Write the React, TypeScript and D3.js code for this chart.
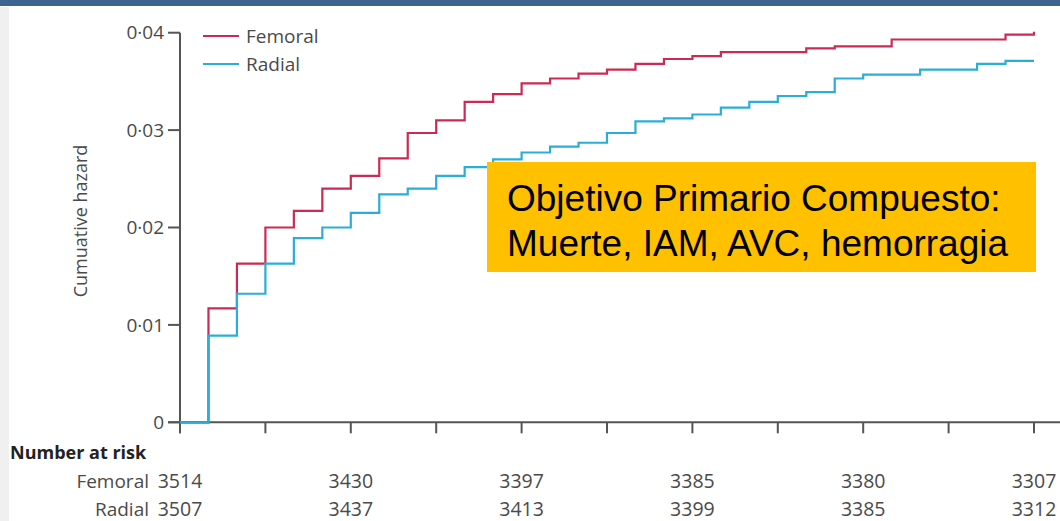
import React from "react";
import * as d3 from "d3";

// Follow-up days (step times) and cumulative hazard per arm
const days = [0, 1, 2, 3, 4, 5, 6, 7, 8, 9, 10, 11, 12, 13, 14, 15, 16, 17, 18, 19, 20, 21, 22, 23, 24, 25, 26, 27, 28, 29, 30];
const femoralHazard = [
  0, 0.0117, 0.0163, 0.0200, 0.0217, 0.0240, 0.0253, 0.0271, 0.0297, 0.0310, 0.0329,
  0.0337, 0.0348, 0.0353, 0.0358, 0.0362, 0.0368, 0.0373, 0.0376, 0.0380, 0.0380,
  0.0380, 0.0384, 0.0386, 0.0386, 0.0393, 0.0393, 0.0393, 0.0393, 0.0398, 0.0401,
];
const radialHazard = [
  0, 0.0089, 0.0132, 0.0163, 0.0189, 0.0200, 0.0215, 0.0234, 0.0240, 0.0253, 0.0262,
  0.0270, 0.0277, 0.0283, 0.0287, 0.0297, 0.0309, 0.0312, 0.0316, 0.0323, 0.0329,
  0.0335, 0.0339, 0.0353, 0.0357, 0.0357, 0.0362, 0.0362, 0.0368, 0.0371, 0.0371,
];

const xTicks = [0, 3, 6, 9, 12, 15, 18, 21, 24, 27, 30];
const yTicks = [0, 0.01, 0.02, 0.03, 0.04];
const yTickLabels = ["0", "0·01", "0·02", "0·03", "0·04"];

// Number at risk table
const riskDays = [0, 6, 12, 18, 24, 30];
const femoralAtRisk = [3514, 3430, 3397, 3385, 3380, 3307];
const radialAtRisk = [3507, 3437, 3413, 3399, 3385, 3312];

const seriesNames = ["Femoral", "Radial"];
const seriesColors = ["#cc2a52", "#2aadd6"];

const boxLines = ["Objetivo Primario Compuesto:", "Muerte, IAM, AVC, hemorragia"];

const W = 1060;
const H = 521;
const FONT = "'Open Sans', 'Noto Sans', sans-serif";
const AXIS = "#555";
const TEXT = "#4a4a4a";

export default function App() {
  const x = d3.scaleLinear().domain([0, 30]).range([180, 1034]);
  const y = d3.scaleLinear().domain([0, 0.04]).range([422.3, 32.7]);

  const line = d3
    .line<[number, number]>()
    .x((d) => x(d[0]))
    .y((d) => y(d[1]))
    .curve(d3.curveStepAfter);

  const femPath = line(days.map((d, i) => [d, femoralHazard[i]]) as [number, number][]) || "";
  const radPath = line(days.map((d, i) => [d, radialHazard[i]]) as [number, number][]) || "";

  const y0 = y(0);
  const axisX = x(0);

  return (
    <svg
      width={W}
      height={H}
      viewBox={`0 0 ${W} ${H}`}
      style={{ position: "absolute", left: 0, top: 0, background: "#fff" }}
      fontFamily={FONT}
    >
      {/* slide frame */}
      <rect x={0} y={0} width={W} height={6} fill="#3d6391" />
      <rect x={0} y={7} width={9} height={H - 7} fill="#f0f0f0" />

      {/* y axis */}
      <line x1={axisX} x2={axisX} y1={y(0.04)} y2={y0 + 11} stroke={AXIS} strokeWidth={2} />
      {yTicks.map((t, i) => (
        <g key={t}>
          <line x1={axisX - 12} x2={axisX} y1={y(t)} y2={y(t)} stroke={AXIS} strokeWidth={2} />
          <text x={164} y={y(t)} dy="0.35em" textAnchor="end" fontSize={19} fill={TEXT}>
            {yTickLabels[i]}
          </text>
        </g>
      ))}
      <text
        transform={`translate(87,${221}) rotate(-90)`}
        textAnchor="middle"
        fontSize={18}
        fill={TEXT}
      >
        Cumuative hazard
      </text>

      {/* x axis */}
      <line x1={axisX - 12} x2={W} y1={y0} y2={y0} stroke={AXIS} strokeWidth={2} />
      {xTicks.map((t) => (
        <line key={t} x1={x(t)} x2={x(t)} y1={y0} y2={y0 + 11} stroke={AXIS} strokeWidth={2} />
      ))}

      {/* curves */}
      <path d={femPath} fill="none" stroke={seriesColors[0]} strokeWidth={2.2} />
      <path d={radPath} fill="none" stroke={seriesColors[1]} strokeWidth={2.2} />

      {/* legend */}
      {seriesNames.map((name, i) => (
        <g key={name}>
          <line x1={203} x2={239} y1={36 + i * 28} y2={36 + i * 28} stroke={seriesColors[i]} strokeWidth={2.2} />
          <text x={246} y={36 + i * 28} dy="0.35em" fontSize={19} fill={TEXT}>
            {name}
          </text>
        </g>
      ))}

      {/* number at risk */}
      <text x={10} y={459} fontSize={18} fontWeight={700} fill="#222">
        Number at risk
      </text>
      {[femoralAtRisk, radialAtRisk].map((row, r) => (
        <g key={r}>
          <text x={149} y={488 + r * 28} textAnchor="end" fontSize={19} fill={TEXT}>
            {seriesNames[r]}
          </text>
          {row.map((n, i) => (
            <text key={i} x={x(riskDays[i])} y={488 + r * 28} textAnchor="middle" fontSize={19.5} fill={TEXT}>
              {n}
            </text>
          ))}
        </g>
      ))}

      {/* annotation box */}
      <rect x={487} y={162} width={549} height={110} fill="#ffc000" />
      {boxLines.map((t, i) => (
        <text
          key={i}
          x={507}
          y={211 + i * 45}
          fontSize={37}
          fontFamily="'Liberation Sans', Arial, sans-serif"
          fill="#000"
        >
          {t}
        </text>
      ))}
    </svg>
  );
}
